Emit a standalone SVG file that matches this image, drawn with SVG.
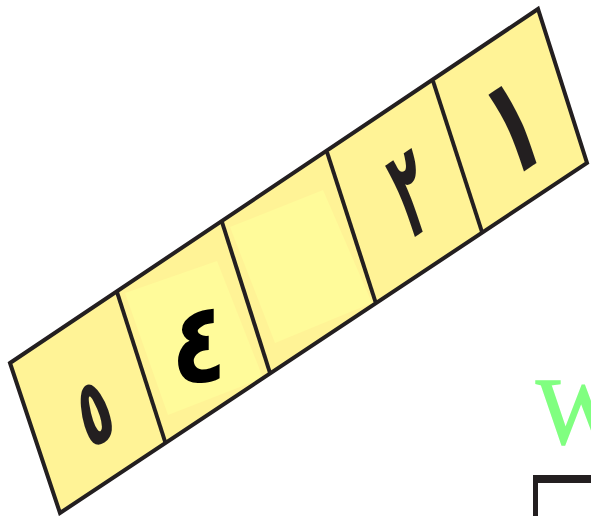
<svg xmlns="http://www.w3.org/2000/svg" width="591" height="516" viewBox="0 0 591 516">
<style>
.cell{fill:#fff396;stroke:none}
.patch{fill:#fffb9a;stroke:none}
.edge{fill:none;stroke:#231f20;stroke-width:4;stroke-linejoin:miter}
.dig{font-family:"DejaVu Sans",sans-serif;fill:#231f20;text-anchor:middle}
</style>
<rect width="591" height="516" fill="#ffffff"/>
<g id="strip">
<polygon class="cell" points="10,363 538,9 587,163 60,513"/>
<polygon class="patch" points="125,293 217,261 263,378 168,415"/>
<polygon class="patch" points="230,227 323,190 372,303 275,343"/>
</g>
<g id="connectors">
<polygon class="edge" points="10,363 538,9 587,163 60,513"/>
<line class="edge" x1="117" y1="292" x2="165.5" y2="443"/>
<line class="edge" x1="222" y1="222" x2="270" y2="373"/>
<line class="edge" x1="327" y1="152" x2="375.5" y2="302"/>
<line class="edge" x1="433" y1="81" x2="482" y2="232"/>
</g>
<g transform="matrix(1.056,-0.708,0.495,1.51,10,363)">
<g id="cell1"><text class="dig" transform="translate(451,83) scale(0.8,1)" font-size="86" font-weight="bold">١</text></g>
<g id="cell2"><text class="dig" transform="translate(354,79) scale(0.55,1)" font-size="78" font-weight="bold">٢</text></g>
<g id="cell5"><text class="dig" transform="translate(53,77) scale(0.8,1)" font-size="58" font-weight="bold">٥</text></g>
</g>
<g id="cell4"><text transform="translate(199,382) scale(0.95,1.18)" font-family="DejaVu Sans, sans-serif" font-weight="bold" font-size="96" fill="#000" text-anchor="middle">٤</text></g>
<g id="label"><text x="536" y="444" font-family="Liberation Serif, serif" font-size="95" fill="#80ff80" stroke="#80ff80" stroke-width="1.6">W</text></g>
<g id="box"><path d="M533,516 V475 H591 V483 H538 V516 Z" fill="#231f20"/></g>
</svg>
